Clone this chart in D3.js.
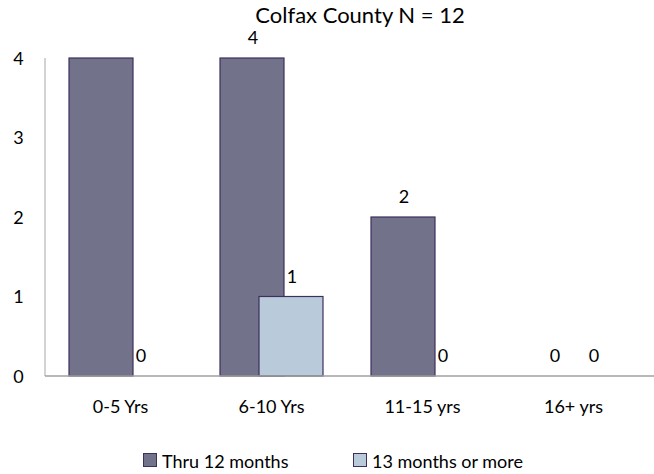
<!DOCTYPE html>
<html><head><meta charset="utf-8">
<script src="https://cdn.jsdelivr.net/npm/d3@7"></script>
<style>body{margin:0;background:#fff}svg{display:block}text{font-family:Lato,"Open Sans",sans-serif;fill:#000}</style>
</head><body><svg id="c" width="654" height="474"></svg>
<script>
const title = "Colfax County N = 12";
const categories = ["0-5 Yrs", "6-10 Yrs", "11-15 yrs", "16+ yrs"];
const seriesNames = ["Thru 12 months", "13 months or more"];
const thru12 = [4, 4, 2, 0];
const over13 = [0, 1, 0, 0];
// data labels as shown in the picture (first bar shows none)
const thru12Labels = [null, 4, 2, 0];
const over13Labels = [0, 1, 0, 0];
const yTicks = [0, 1, 2, 3, 4];
const colors = ["#72728a", "#b9cbda"];

(function () {
const svg = d3.select("#c");
const mLeft = 45, mRight = 649, mTop = 58, mBottom = 376;
const x = d3.scaleBand().domain(categories).range([mLeft, mRight]);
const y = d3.scaleLinear().domain([0, 4]).range([mBottom, mTop]);
const bw = 64, off = 39;
const fs = "18px";
const barX = (c, s) => x(c) + x.bandwidth() / 2 - (bw + off) / 2 + s * off;

svg.append("text").attr("x", 360).attr("y", 23).attr("text-anchor", "middle")
  .style("font-size", "22px").text(title);

svg.selectAll(".yt").data(yTicks).enter().append("text").attr("class", "yt")
  .attr("x", 18.5).attr("y", d => y(d) + 6.5).attr("text-anchor", "middle")
  .style("font-size", fs).text(d => d);

const series = [thru12, over13];
const labels = [thru12Labels, over13Labels];
series.forEach((vals, s) => {
  const g = svg.append("g");
  const bars = vals.map((v, i) => ({v, c: categories[i]})).filter(d => d.v > 0);
  g.selectAll("rect").data(bars).enter().append("rect")
    .attr("x", d => barX(d.c, s))
    .attr("y", d => y(d.v))
    .attr("width", bw)
    .attr("height", d => y(0) - y(d.v))
    .attr("fill", colors[s]).attr("stroke", "#3e2f5e").attr("stroke-width", 1.2);
  const labs = labels[s].map((v, i) => ({v, c: categories[i], val: vals[i]})).filter(d => d.v !== null);
  g.selectAll("text").data(labs).enter().append("text")
    .attr("x", d => barX(d.c, s) + bw / 2 + 1)
    .attr("y", d => y(d.val) - 14)
    .attr("text-anchor", "middle").style("font-size", fs).text(d => d.v);
});

svg.append("line").attr("x1", mLeft).attr("x2", mLeft).attr("y1", mTop).attr("y2", mBottom)
  .attr("stroke", "#a6a6a6").attr("stroke-width", 1);
svg.append("line").attr("x1", mLeft).attr("x2", 654).attr("y1", mBottom).attr("y2", mBottom)
  .attr("stroke", "#a0a0a0").attr("stroke-width", 1.5);

svg.selectAll(".xl").data(categories).enter().append("text").attr("class", "xl")
  .attr("x", d => x(d) + x.bandwidth() / 2).attr("y", 413)
  .attr("text-anchor", "middle").style("font-size", fs).text(d => d);

const legX = [143, 353];
seriesNames.forEach((n, i) => {
  svg.append("rect").attr("x", legX[i] + 0.5).attr("y", 453.5).attr("width", 13).attr("height", 13)
    .attr("fill", colors[i]).attr("stroke", "#3e2f5e").attr("stroke-width", 1);
  svg.append("text").attr("x", legX[i] + 19).attr("y", 468).style("font-size", fs).text(n);
});
})();
</script></body></html>
